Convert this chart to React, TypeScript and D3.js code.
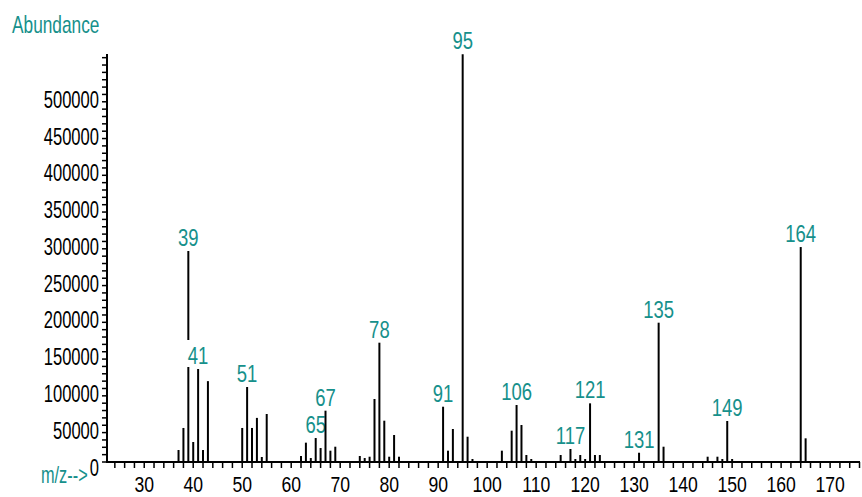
import React from "react";
import * as d3 from "d3";

// Mass spectrum: m/z values and their abundances
const masses = [
  37, 38, 39, 40, 41, 42, 43,
  50, 51, 52, 53, 54, 55,
  62, 63, 64, 65, 66, 67, 68, 69,
  74, 75, 76, 77, 78, 79, 80, 81, 82,
  91, 92, 93, 95, 96, 97,
  103, 105, 106, 107, 108, 109,
  115, 117, 118, 119, 120, 121, 122, 123,
  131, 135, 136,
  145, 147, 148, 149, 150,
  164, 165,
];
const abundances = [
  16300, 46300, 287000, 27200, 126500, 16300, 110000,
  46300, 102000, 46300, 60000, 6800, 65300,
  8200, 26300, 5400, 32600, 19000, 69800, 15400, 20800,
  8200, 5400, 7200, 85700, 162300, 56200, 7200, 36700, 7200,
  75200, 15400, 44900, 554700, 34400, 4100,
  15400, 42600, 77500, 50300, 9500, 4100,
  9500, 17700, 4100, 9500, 4100, 79800, 9500, 9500,
  12600, 189500, 20800,
  7200, 7200, 4100, 55800, 4100,
  292400, 32200,
];
const labeledMasses = [39, 41, 51, 65, 67, 78, 91, 95, 106, 117, 121, 131, 135, 149, 164];

const yTickLabels = [0, 50000, 100000, 150000, 200000, 250000, 300000, 350000, 400000, 450000, 500000];
const xTickLabels = [30, 40, 50, 60, 70, 80, 90, 100, 110, 120, 130, 140, 150, 160, 170];

const W = 862;
const H = 497;
const TEAL = "#16908b";
const FONT = "'Liberation Sans', Arial, sans-serif";

export default function App() {
  const x = d3.scaleLinear().domain([22.4, 176.1]).range([107, 860]);
  const y = d3.scaleLinear().domain([0, 555000]).range([462, 54]);

  const minorY = d3.range(0, 550001, 10000);
  const minorX = d3.range(24, 177, 2);

  const peaks = masses.map((m, i) => ({ m, v: abundances[i] }));

  return (
    <svg
      width={W}
      height={H}
      style={{ position: "absolute", left: 0, top: 0, background: "#fff" }}
      fontFamily={FONT}
    >
      <rect width={W} height={H} fill="#fff" />

      {/* axis titles */}
      <g transform="translate(12,33) scale(0.72,1)">
        <text fontSize={24} fill={TEAL}>Abundance</text>
      </g>
      <g transform="translate(41,483) scale(0.68,1)">
        <text fontSize={24} fill={TEAL}>m/z--&gt;</text>
      </g>

      {/* y axis */}
      <line x1={107} x2={107} y1={y(555000)} y2={y(0)} stroke="#000" strokeWidth={2} />
      {minorY.map((v) => (
        <line key={"ty" + v} x1={102} x2={107} y1={y(v)} y2={y(v)} stroke="#000" strokeWidth={1.5} />
      ))}
      {yTickLabels.map((v) => (
        <g key={"ly" + v} transform={`translate(99,${y(v) + 13.5}) scale(0.69,1)`}>
          <text fontSize={24} textAnchor="end" fill="#000">{v}</text>
        </g>
      ))}

      {/* x axis */}
      <line x1={106} x2={860} y1={y(0)} y2={y(0)} stroke="#000" strokeWidth={2} />
      {minorX.map((m) => (
        <line key={"tx" + m} x1={x(m)} x2={x(m)} y1={y(0)} y2={y(0) + 6} stroke="#000" strokeWidth={1.5} />
      ))}
      {xTickLabels.map((m) => (
        <g key={"lx" + m} transform={`translate(${x(m)},492) scale(0.8,1)`}>
          <text fontSize={22} textAnchor="middle" fill="#000">{m}</text>
        </g>
      ))}

      {/* peaks, each followed by its label so later bars stay on top */}
      {peaks.map(({ m, v }) => {
        const cx = x(m);
        const top = y(v);
        const labeled = labeledMasses.includes(m);
        const txt = String(m);
        const tw = txt.length * 24 * 0.556 * 0.77;
        const base = top - 5;
        return (
          <g key={"p" + m}>
            <line x1={cx} x2={cx} y1={y(0)} y2={top} stroke="#000" strokeWidth={2} />
            {labeled && (
              <g>
                <rect x={cx - tw / 2 - 1.5} y={base - 24} width={tw + 3} height={27} fill="#fff" />
                <g transform={`translate(${cx},${base}) scale(0.77,1)`}>
                  <text fontSize={24} textAnchor="middle" fill={TEAL}>{txt}</text>
                </g>
              </g>
            )}
          </g>
        );
      })}
    </svg>
  );
}
